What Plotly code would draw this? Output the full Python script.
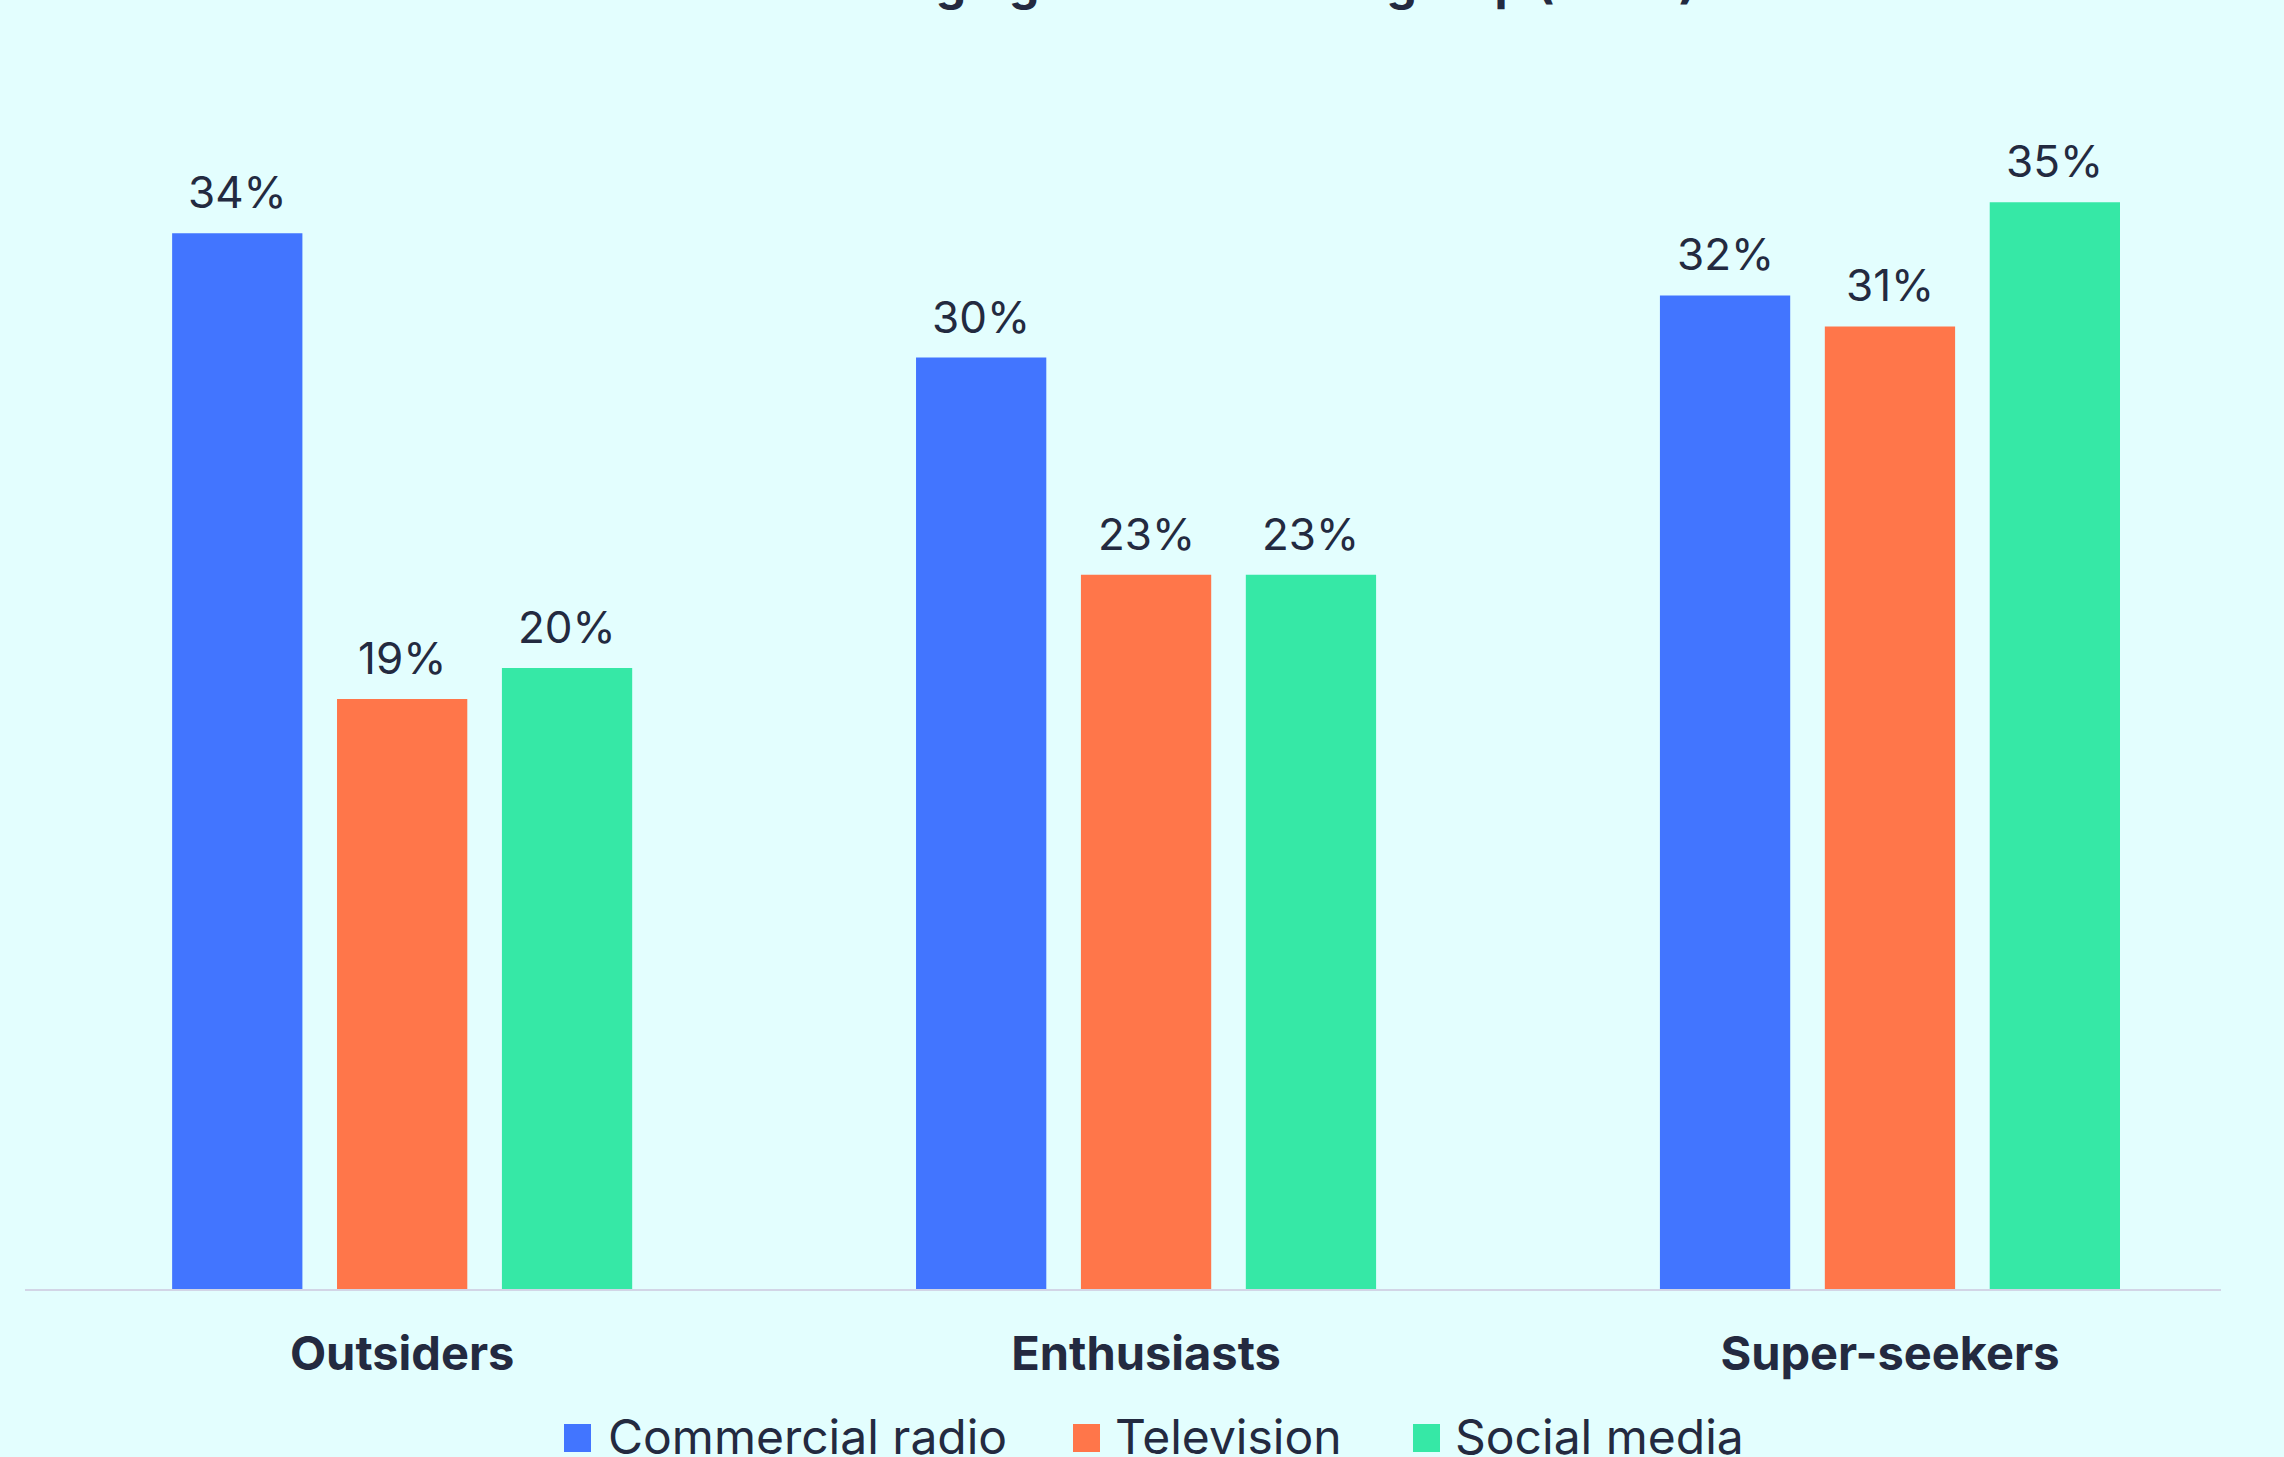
import plotly.graph_objects as go

# --- data -----------------------------------------------------------------
segments = ["Outsiders", "Enthusiasts", "Super-seekers"]
channels = ["Commercial radio", "Television", "Social media"]
commercial_radio = [34, 30, 32]
television = [19, 23, 31]
social_media = [20, 23, 35]
series_values = [commercial_radio, television, social_media]
title_text = "Channels changing minds in each group (2024)"

# --- styling ----------------------------------------------------------------
colors = ["#4275FF", "#FF764A", "#36E8A6"]
bg = "#E3FEFE"
ink = "#232A40"
font_family = "Inter, 'Open Sans', sans-serif"

W, H = 2284, 1457
margin = dict(l=25, r=63, t=47, b=168)
x_range = [-0.507, 2.445]
y_range = [0, 40]
bargap = 0.335
bargroupgap = 0.21

plot_w = W - margin["l"] - margin["r"]
plot_h = H - margin["t"] - margin["b"]
cat_px = plot_w / (x_range[1] - x_range[0])
slot_px = cat_px * (1 - bargap) / len(channels)

fig = go.Figure()
for name, vals, col in zip(channels, series_values, colors):
    fig.add_trace(go.Bar(
        x=segments, y=vals, name=name,
        marker=dict(color=col, line=dict(width=0)),
        showlegend=False, hoverinfo="x+y+name",
    ))

# value labels above each bar
annotations = []
n = len(channels)
for i, vals in enumerate(series_values):
    shift = (i - (n - 1) / 2) * slot_px
    for seg, v in zip(segments, vals):
        annotations.append(dict(
            x=seg, y=v, xref="x", yref="y", text=f"{v}%",
            showarrow=False, xanchor="center", yanchor="bottom",
            xshift=shift, yshift=12,
            font=dict(family=font_family, size=44, color=ink),
        ))

# legend: coloured squares followed by channel names
legend_square_left = [564, 1073, 1413]
legend_text_left = [606, 1113, 1453]
sq_top, sq_bottom = 1424, 1452
legend_mid = 1436


def px_x(px):
    return (px - margin["l"]) / plot_w


def px_y(py):
    return (H - margin["b"] - py) / plot_h


shapes = []
for name, col, sx, tx in zip(channels, colors, legend_square_left, legend_text_left):
    shapes.append(dict(
        type="rect", xref="paper", yref="paper",
        x0=px_x(sx), x1=px_x(sx + 27), y0=px_y(sq_bottom), y1=px_y(sq_top),
        fillcolor=col, line=dict(width=0),
    ))
    annotations.append(dict(
        x=px_x(tx), y=px_y(legend_mid), xref="paper", yref="paper",
        text=name, showarrow=False, xanchor="left", yanchor="middle",
        font=dict(family=font_family, size=48, color=ink),
    ))

fig.update_layout(
    width=W, height=H,
    margin=margin,
    paper_bgcolor=bg, plot_bgcolor=bg,
    barmode="group", bargap=bargap, bargroupgap=bargroupgap,
    title=dict(
        text=f"<b>{title_text}</b>", x=0.5, xanchor="center",
        y=1, yref="container", yanchor="bottom",
        font=dict(family=font_family, size=48, color=ink),
    ),
    xaxis=dict(
        range=x_range, showline=True, linecolor="#D2D5E6", linewidth=2,
        ticks="", showgrid=False, zeroline=False,
        tickfont=dict(family=font_family, size=47, color=ink, weight="bold"),
        ticklabelstandoff=23,
    ),
    yaxis=dict(range=y_range, visible=False, showgrid=False, zeroline=False),
    annotations=annotations,
    shapes=shapes,
    showlegend=False,
)

fig.write_html("out.html")
